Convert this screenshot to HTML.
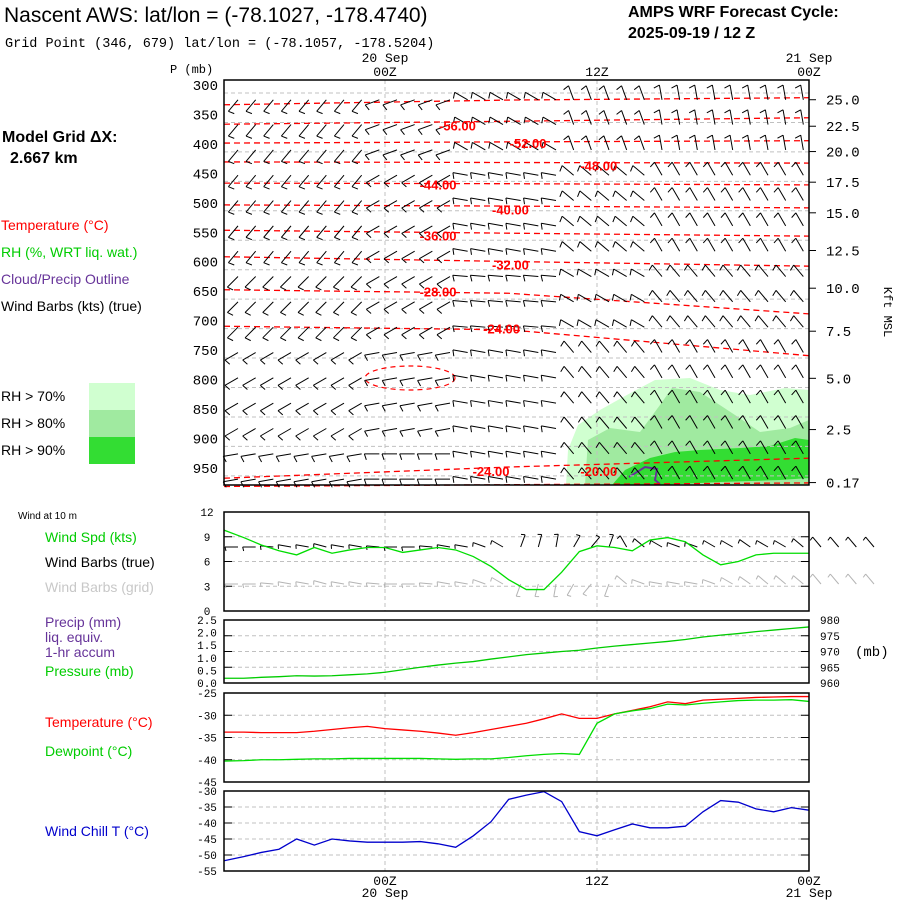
<!DOCTYPE html>
<html><head><meta charset="utf-8">
<style>
html,body{margin:0;padding:0;background:#fff;}
body{width:900px;height:900px;overflow:hidden;position:relative;font-family:"Liberation Sans",sans-serif;}
svg text{font-family:"Liberation Mono",monospace;}
.lbl{font-family:"Liberation Sans",sans-serif;font-size:14px;}
</style></head>
<body>
<svg id="chart" width="900" height="900" viewBox="0 0 900 900" xmlns="http://www.w3.org/2000/svg">
<g id="static">
<text x="4" y="22" style="font-family:'Liberation Sans',sans-serif;font-size:21px;" fill="#000">Nascent AWS:  lat/lon = (-78.1027, -178.4740)</text>
<text x="5" y="47" style="font-size:13.5px;" fill="#000">Grid Point (346, 679) lat/lon = (-78.1057, -178.5204)</text>
<text x="628" y="17" style="font-family:'Liberation Sans',sans-serif;font-size:16px;font-weight:bold;">AMPS WRF Forecast Cycle:</text>
<text x="628" y="38" style="font-family:'Liberation Sans',sans-serif;font-size:16px;font-weight:bold;">2025-09-19 / 12  Z</text>
<text x="2" y="142" style="font-family:'Liberation Sans',sans-serif;font-size:16px;font-weight:bold;">Model Grid ΔX:</text>
<text x="10" y="163" style="font-family:'Liberation Sans',sans-serif;font-size:16px;font-weight:bold;">2.667 km</text>
<text class="lbl" x="1" y="230" fill="#ff0000">Temperature (°C)</text>
<text class="lbl" x="1" y="257" fill="#00cc00">RH (%, WRT liq. wat.)</text>
<text class="lbl" x="1" y="284" fill="#663399">Cloud/Precip Outline</text>
<text class="lbl" x="1" y="311" fill="#000">Wind Barbs (kts) (true)</text>
<text class="lbl" x="1" y="401">RH &gt; 70%</text>
<text class="lbl" x="1" y="428">RH &gt; 80%</text>
<text class="lbl" x="1" y="455">RH &gt; 90%</text>
<rect x="89" y="383" width="46" height="27" fill="#d0ffd0"/>
<rect x="89" y="410" width="46" height="27" fill="#a0eaa0"/>
<rect x="89" y="437" width="46" height="27" fill="#33dd33"/>
<text x="170" y="73" style="font-size:12px;">P (mb)</text>
<text x="884" y="312" style="font-size:12px;" transform="rotate(90 884 312)" text-anchor="middle">Kft MSL</text>
<text x="385" y="62" style="font-size:13px;" text-anchor="middle">20 Sep</text>
<text x="385" y="76" style="font-size:13px;" text-anchor="middle">00Z</text>
<text x="597" y="76" style="font-size:13px;" text-anchor="middle">12Z</text>
<text x="809" y="62" style="font-size:13px;" text-anchor="middle">21 Sep</text>
<text x="809" y="76" style="font-size:13px;" text-anchor="middle">00Z</text>
<text x="18" y="519" style="font-family:'Liberation Sans',sans-serif;font-size:10px;">Wind at 10 m</text>
<text class="lbl" x="45" y="542" fill="#00cc00">Wind Spd (kts)</text>
<text class="lbl" x="45" y="567">Wind Barbs (true)</text>
<text class="lbl" x="45" y="592" fill="#c8c8c8">Wind Barbs (grid)</text>
<text class="lbl" x="45" y="627" fill="#663399">Precip (mm)</text>
<text class="lbl" x="45" y="642" fill="#663399">liq. equiv.</text>
<text class="lbl" x="45" y="657" fill="#663399">1-hr accum</text>
<text class="lbl" x="45" y="676" fill="#00cc00">Pressure (mb)</text>
<text x="855" y="656" style="font-size:14px;">(mb)</text>
<text class="lbl" x="45" y="727" fill="#ff0000">Temperature (°C)</text>
<text class="lbl" x="45" y="756" fill="#00cc00">Dewpoint (°C)</text>
<text class="lbl" x="45" y="836" fill="#0000cc">Wind Chill T (°C)</text>
<text x="385" y="885" style="font-size:13px;" text-anchor="middle">00Z</text>
<text x="385" y="897" style="font-size:13px;" text-anchor="middle">20 Sep</text>
<text x="597" y="885" style="font-size:13px;" text-anchor="middle">12Z</text>
<text x="809" y="885" style="font-size:13px;" text-anchor="middle">00Z</text>
<text x="809" y="897" style="font-size:13px;" text-anchor="middle">21 Sep</text>
</g>
<g id="dyn"></g>
</svg>
<script>
// ---- data ----
const hours = [-9,-8,-7,-6,-5,-4,-3,-2,-1,0,1,2,3,4,5,6,7,8,9,10,11,12,13,14,15,16,17,18,19,20,21,22,23,24];
const windSpd = [9.8,8.9,8.0,7.3,6.8,7.7,7.0,7.4,7.7,7.7,7.1,7.4,7.7,7.4,6.6,5.4,3.8,2.6,2.6,4.7,7.2,7.9,7.7,7.3,8.6,8.9,8.4,6.8,5.6,6.0,6.8,7.0,7.0,7.0];
const windDir10 = [270,270,275,280,280,285,280,280,275,270,270,275,280,280,290,300,20,15,10,30,40,20,330,310,300,290,290,300,300,305,300,300,310,320];
const windDirGrid = [270,270,275,280,280,285,280,280,275,270,270,275,280,280,290,300,200,195,190,210,220,200,310,290,280,280,280,290,300,305,310,310,310,320];
const pressure = [961.5,961.5,961.8,962.0,962.3,962.2,962.3,962.6,962.9,963.4,964.2,965.0,965.7,966.3,966.8,967.6,968.3,969.0,969.5,970.0,970.4,971.1,971.7,972.2,972.7,973.2,973.8,974.6,975.2,975.7,976.3,976.8,977.3,977.8];
const precip = [0,0,0,0,0,0,0,0,0,0,0,0,0,0,0,0,0,0,0,0,0,0,0,0,0,0,0,0,0,0,0,0,0,0];
const temp = [-33.8,-33.8,-33.9,-33.9,-33.9,-33.6,-33.2,-32.8,-32.5,-33.0,-33.3,-33.6,-34.0,-34.5,-33.9,-33.2,-32.5,-31.8,-30.8,-29.7,-30.7,-30.7,-29.7,-28.9,-28.1,-27.0,-27.4,-26.6,-26.4,-26.2,-26.0,-25.9,-25.8,-25.8];
const dewpt = [-40.3,-40.2,-40.0,-40.0,-39.9,-39.8,-39.8,-39.7,-39.7,-39.7,-39.7,-39.7,-39.8,-39.9,-39.8,-39.8,-39.5,-39.1,-38.8,-38.6,-38.8,-31.8,-29.7,-29.0,-28.5,-27.5,-27.7,-27.3,-27.0,-26.7,-26.6,-26.6,-26.5,-26.9];
const windChill = [-51.8,-50.5,-49.2,-48.2,-45.0,-46.9,-45.0,-45.6,-46.0,-46.0,-46.0,-45.8,-46.5,-47.6,-44.0,-39.6,-32.6,-31.3,-30.2,-33.3,-42.7,-44.0,-42.1,-40.3,-41.5,-41.5,-41.0,-36.5,-33.0,-33.5,-35.6,-36.5,-35.2,-36.0];
const pLevels = [300,350,400,450,500,550,600,650,700,750,800,850,900,950];
const kftTicks = ["25.0","22.5","20.0","17.5","15.0","12.5","10.0","7.5","5.0","2.5","0.17"];
const kftP = [325,370,413,465,517,581,645,718,798,885,975];
const barbP = [315,357,400,443,486,529,572,615,658,701,744,787,830,873,916,959];
// direction grid: bands x time segments
const barbBandTop = [300,425,575,725,875];
const barbSegStart = [-9,-1,4,10,15];
const barbDirGrid = [[220,250,300,340,350],[220,240,280,310,330],[225,240,275,300,320],[240,260,280,320,330],[260,270,280,320,330]];
const barbSpdGrid = [[10,10,10,10,10],[10,10,10,10,10],[10,10,10,10,10],[10,10,10,10,10],[10,10,10,10,10]];
const isoTemps = [-60,-56,-52,-48,-44,-40,-36,-32,-28,-24,-20,-16];
const isoHrs = [-9,7,24];
const isoP = [[320,312,308],[353,348,342],[385,383,381],[417,418,419],[453,454,456],[490,492,495],[533,538,543],[578,586,594],[634,640,675],[696,702,746],[954,935,920],[968,965,962]];
const isoLabels = ["-56.00","-52.00","-48.00","-44.00","-40.00","-36.00","-32.00","-28.00","-24.00","-24.00","-20.00"];
const isoLabelHr = [4.1,8.1,12.1,3.0,7.1,3.0,7.1,3.0,6.6,6.0,12.1];
const isoLabelP = [355,385,423,455,498,542,591,637,700,955,955];
const windTicks=[0,3,6,9,12], presTicks=[960,965,970,975,980], precipTicks=["0.0","0.5","1.0","1.5","2.0","2.5"];
const tempTicks=[-45,-40,-35,-30,-25], chillTicks=[-55,-50,-45,-40,-35,-30];

// ---- scales ----
const X0=224,X1=809;
const xOf=h=>385+h*(212/12);
const pY=p=>85+(p-300)*0.589;
const panels={wind:[512,611,0,12],pres:[620,683,960,980],temp:[693,782,-45,-25],chill:[791,871,-55,-30]};
const yOf=(pn,v)=>{const [t,b,lo,hi]=panels[pn];return b-(v-lo)/(hi-lo)*(b-t);};

const NS="http://www.w3.org/2000/svg";
const root=document.getElementById('dyn');
function mk(tag,attrs,parent){const e=document.createElementNS(NS,tag);for(const k in attrs)e.setAttribute(k,attrs[k]);(parent||root).appendChild(e);return e;}

// main panel
const main=mk('g',{});


const mainRect=mk('rect',{x:X0,y:80,width:X1-X0,height:405,fill:'#fff'},main);


// RH shading
const rh70=mk('polygon',{points:'566,485 568,450 578,425 600,410 625,396 655,380 690,378 720,390 750,395 785,388 809,390 809,485',fill:'#d0ffd0'},main);


const rh80=mk('polygon',{points:'585,485 588,440 610,428 640,432 660,405 672,388 700,392 735,415 760,432 790,428 809,420 809,485',fill:'#a0eaa0'},main);


const rh90=mk('polygon',{points:'612,485 625,470 650,458 675,452 700,450 740,448 770,446 795,438 809,440 809,478 780,480 720,482 660,485',fill:'#33dd33'},main);


const cloud=mk('polyline',{points:'629,477 645,467 657,469 655,480 660,484',fill:'none',stroke:'#663399','stroke-width':2},main);


// gridlines
pLevels.forEach(p=>{
  const y=pY(p)+8;
  if(y<485){const g=mk('line',{x1:X0,x2:X1,y1:y,y2:y,stroke:'#c0c0c0','stroke-dasharray':'4,3'},main);
  
  }
  const t=mk('text',{x:218,y:pY(p)+5,'text-anchor':'end','font-size':14},main);t.textContent=p;
  
  
});
kftTicks.forEach((s,i)=>{
  const y=Math.min(pY(kftP[i]),485);
  const t=mk('text',{x:826,y:y+5,'font-size':14},main);t.textContent=s;
  
  
  const tk=mk('line',{x1:809,x2:816,y1:y,y2:y,stroke:'#000'},main);
  
  
});
[0,12].forEach(h=>{const g=mk('line',{x1:xOf(h),x2:xOf(h),y1:80,y2:485,stroke:'#c0c0c0','stroke-dasharray':'4,3'},main);

});
// isotherms
isoTemps.forEach((T,i)=>{
  const pts=isoHrs.map((h,j)=>[h===-9?X0:xOf(h),pY(isoP[i][j])+8]);
  const d='M'+pts.map(p=>p.join(',')).join(' L');
  const l=mk('path',{d:d,fill:'none',stroke:'#ff0000','stroke-width':1.3,'stroke-dasharray':'6,4'},main);
  
  
});
const loop=mk('ellipse',{cx:410,cy:378,rx:45,ry:12,fill:'none',stroke:'#ff0000','stroke-width':1.2,'stroke-dasharray':'5,4'},main);


// barbs
function barb(g,x,y,dir,spd,color,len){
  const r=dir*Math.PI/180, dx=Math.sin(r), dy=-Math.cos(r);
  const ex=x+dx*len, ey=y+dy*len;
  let d=`M${x},${y} L${ex},${ey}`;
  const px=dy, py=-dx; // perpendicular
  let s=spd, pos=0;
  while(s>=10){const bx=ex-dx*pos,by=ey-dy*pos;d+=` M${bx},${by} L${bx+px*6-dx*2},${by+py*6-dy*2}`;pos+=3;s-=10;}
  if(s>=5){const bx=ex-dx*pos,by=ey-dy*pos;d+=` M${bx},${by} L${bx+px*4-dx*1},${by+py*4-dy*1}`;}
  const e=mk('path',{d:d,stroke:color,'stroke-width':1,fill:'none'},g);
  return e;
}
const bandIdx=p=>{let k=0;barbBandTop.forEach((t,i)=>{if(p>=t)k=i;});return k;};
const segIdx=h=>{let k=0;barbSegStart.forEach((t,i)=>{if(h>=t)k=i;});return k;};
barbP.forEach(p=>{
  hours.forEach(h=>{
    if(h===24)return;
    const b=bandIdx(p), s=segIdx(h);
    const e=barb(main,xOf(h)+12,pY(p)+6,barbDirGrid[b][s],barbSpdGrid[b][s],'#000',15);
    
    
  });
});
isoLabels.forEach((s,i)=>{
  const t=mk('text',{x:xOf(isoLabelHr[i]),y:Math.min(pY(isoLabelP[i])+13,476),'text-anchor':'middle',fill:'#ff0000','font-size':13,'font-weight':'bold',style:"font-family:'Liberation Sans',sans-serif"},main);
  t.textContent=s;
  
  
});
const mb=mk('rect',{x:X0,y:80,width:X1-X0,height:405,fill:'none',stroke:'#000','stroke-width':1.5},main);



// lower panels
function panel(name,pn,ticks,rightTicks){
  const [t,b]=panels[pn];
  const g=mk('g',{});
  
  
  ticks.forEach(v=>{
    const y=yOf(pn,v);
    if(y>t+1&&y<b-1){const gl=mk('line',{x1:X0,x2:X1,y1:y,y2:y,stroke:'#c0c0c0','stroke-dasharray':'4,3'},g);
      
      }
    mk('line',{x1:X0,x2:X0+8,y1:y,y2:y,stroke:'#000'},g);
    mk('line',{x1:X1-8,x2:X1,y1:y,y2:y,stroke:'#000'},g);
    if(!rightTicks){const tx=mk('text',{x:207,y:y+4,'text-anchor':'middle','font-size':11},g);tx.textContent=v;
      
      }
    else{const tx=mk('text',{x:820,y:y+4,'font-size':11},g);tx.textContent=v;
      
      }
  });
  [0,12].forEach(h=>{const gl=mk('line',{x1:xOf(h),x2:xOf(h),y1:t,y2:b,stroke:'#c0c0c0','stroke-dasharray':'4,3'},g);
    
    });
  return g;
}
function frame(g,pn){const [t,b]=panels[pn];const r=mk('rect',{x:X0,y:t,width:X1-X0,height:b-t,fill:'none',stroke:'#000','stroke-width':1.5},g);
  
  }
function line(g,pn,vals,color,name){
  const pts=hours.map((h,i)=>`${h===-9?X0:xOf(h)},${yOf(pn,vals[i])}`).join(' ');
  const l=mk('polyline',{points:pts,fill:'none',stroke:color,'stroke-width':1.3},g);
  
  
}
const gw=panel('wind-panel','wind',windTicks,false);
hours.concat([25,26,27]).forEach((h,i)=>{
  const dir=windDir10[Math.min(i,33)], dg=windDirGrid[Math.min(i,33)], sp=Math.max(windSpd[Math.min(i,33)],5);
  const e1=barb(gw,xOf(h)+12,547,dir,sp,'#000',13);
  
  
  const e2=barb(gw,xOf(h)+12,584,dg,sp,'#b4b4b4',13);
  
  
});
line(gw,'wind',windSpd,'#00dd00','wind-speed-line');
frame(gw,'wind');

const gp=panel('pressure-panel','pres',presTicks,true);
precipTicks.forEach((s,i)=>{const y=683-i*(63/5);const tx=mk('text',{x:207,y:y+4,'text-anchor':'middle','font-size':11},gp);tx.textContent=s;
  
  });
line(gp,'pres',pressure,'#00cc00','pressure-line');
frame(gp,'pres');

const gt=panel('temperature-panel','temp',tempTicks,false);
line(gt,'temp',temp,'#ff0000','temperature-line');
line(gt,'temp',dewpt,'#00dd00','dewpoint-line');
frame(gt,'temp');

const gc=panel('windchill-panel','chill',chillTicks,false);
line(gc,'chill',windChill,'#0000cc','windchill-line');
frame(gc,'chill');
</script>
</body></html>
